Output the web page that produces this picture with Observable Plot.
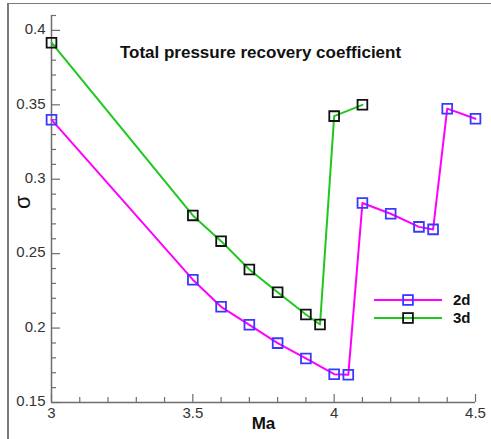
<!DOCTYPE html>
<html><head><meta charset="utf-8">
<script src="https://cdn.jsdelivr.net/npm/d3@7"></script>
<script src="https://cdn.jsdelivr.net/npm/@observablehq/plot@0.6"></script>
<style>
body{margin:0;background:#fff;}
#wrap{position:relative;width:491px;height:439px;overflow:hidden;font-family:Arial,"Liberation Sans",sans-serif;}
#frame{position:absolute;left:7px;top:3px;right:-10px;bottom:-10px;border-left:2px solid #7a7a7a;border-top:1.5px solid #7a7a7a;pointer-events:none;}
#wrap svg{position:absolute;left:0;top:0;}
</style></head><body><div id="wrap"><div id="frame"></div></div>
<script>
const ma2d = [3.0, 3.5, 3.6, 3.7, 3.8, 3.9, 4.0, 4.05, 4.1, 4.2, 4.3, 4.35, 4.4, 4.5];
const sigma2d = [0.340, 0.2325, 0.2143, 0.2022, 0.1899, 0.1796, 0.169, 0.1686, 0.284, 0.2768, 0.268, 0.2663, 0.3474, 0.3406];
const ma3d = [3.0, 3.5, 3.6, 3.7, 3.8, 3.9, 3.95, 4.0, 4.1];
const sigma3d = [0.3917, 0.2757, 0.2584, 0.2394, 0.2241, 0.2091, 0.2024, 0.3424, 0.350];
const seriesNames = ["2d", "3d"];
const lineColors = ["#ff00ff", "#1ec81e"];
const markerColors = ["#3a3aff", "#111111"];
const xTicks = [3, 3.5, 4, 4.5];
const xTickLabels = ["3", "3.5", "4", "4.5"];
const yTicks = [0.15, 0.2, 0.25, 0.3, 0.35, 0.4];
const yTickLabels = ["0.15", "0.2", "0.25", "0.3", "0.35", "0.4"];
const xMinor = [3.1, 3.2, 3.3, 3.4, 3.6, 3.7, 3.8, 3.9, 4.1, 4.2, 4.3, 4.4];
const yMinor = [0.16, 0.17, 0.18, 0.19, 0.21, 0.22, 0.23, 0.24, 0.26, 0.27, 0.28, 0.29, 0.31, 0.32, 0.33, 0.34, 0.36, 0.37, 0.38, 0.39, 0.41];
const titleText = "Total pressure recovery coefficient";
const xLabel = "Ma";
const yLabel = "σ";

const d2 = ma2d.map((x, i) => ({x, y: sigma2d[i]}));
const d3s = ma3d.map((x, i) => ({x, y: sigma3d[i]}));

const W = 491, H = 439, mL = 51, mR = 16, mT = 15, mB = 37;
const fw = W - mL - mR, fh = H - mT - mB;
const axisColor = "#6e6e6e";
const font = "Arial, 'Liberation Sans', sans-serif";

const chart = Plot.plot({
  width: W, height: H,
  marginLeft: mL, marginRight: mR, marginTop: mT, marginBottom: mB,
  x: {domain: [3, 4.5]},
  y: {domain: [0.15, 0.41]},
  style: {fontFamily: font, background: "transparent", overflow: "visible"},
  marks: [
    Plot.axisX(xTicks, {tickSize: 0, tickPadding: 5, fontSize: 15, fill: "#333", label: null,
      tickFormat: d => xTickLabels[xTicks.indexOf(d)]}),
    Plot.axisY(yTicks, {tickSize: 0, tickPadding: 6, dy: -1, fontSize: 15, fill: "#333", label: null,
      tickFormat: d => yTickLabels[yTicks.indexOf(d)]}),
    Plot.ruleX(xTicks, {insetTop: fh - 8, stroke: axisColor, strokeWidth: 1.2}),
    Plot.ruleX(xMinor, {insetTop: fh - 5, stroke: axisColor, strokeWidth: 1.2}),
    Plot.ruleY(yTicks, {insetRight: fw - 9, stroke: axisColor, strokeWidth: 1.2}),
    Plot.ruleY(yMinor, {insetRight: fw - 5, stroke: axisColor, strokeWidth: 1.2}),
    Plot.ruleX([3], {stroke: axisColor, strokeWidth: 1.5}),
    Plot.ruleY([0.15], {stroke: axisColor, strokeWidth: 1.5}),
    Plot.line(d2, {x: "x", y: "y", stroke: lineColors[0], strokeWidth: 2}),
    Plot.line(d3s, {x: "x", y: "y", stroke: lineColors[1], strokeWidth: 2}),
    Plot.dot(d2, {x: "x", y: "y", symbol: "square", r: 5.5, stroke: markerColors[0], strokeWidth: 1.8, fill: "none"}),
    Plot.dot(d3s, {x: "x", y: "y", symbol: "square", r: 5.5, stroke: markerColors[1], strokeWidth: 1.8, fill: "none"}),
    Plot.text([titleText], {frameAnchor: "top", dy: 30, dx: -3, fontWeight: "bold", fontSize: 17, fill: "#111"}),
    Plot.text([xLabel], {frameAnchor: "bottom", dy: 26, fontWeight: "bold", fontSize: 17, fill: "#111"}),
    Plot.text([yLabel], {frameAnchor: "left", dx: -29, rotate: -90, fontSize: 22, fill: "#111"})
  ]
});
document.getElementById("wrap").appendChild(chart);

// legend overlay
const leg = d3.select("#wrap").append("svg").attr("width", W).attr("height", H)
  .style("pointer-events", "none");
seriesNames.forEach((name, i) => {
  const y = 300 + i * 18;
  leg.append("line").attr("x1", 374).attr("x2", 442).attr("y1", y).attr("y2", y)
    .attr("stroke", lineColors[i]).attr("stroke-width", 2);
  leg.append("rect").attr("x", 408 - 4.9).attr("y", y - 4.9).attr("width", 9.8).attr("height", 9.8)
    .attr("fill", "none").attr("stroke", markerColors[i]).attr("stroke-width", 1.8);
  leg.append("text").attr("x", 453).attr("y", y).attr("dy", "0.35em")
    .attr("font-family", font).attr("font-weight", "bold").attr("font-size", 15).attr("fill", "#111")
    .text(name);
});
</script>
</body></html>
